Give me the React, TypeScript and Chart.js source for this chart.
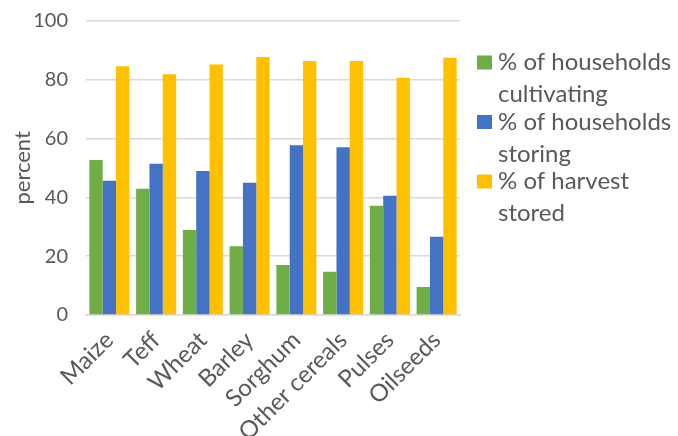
import React, { useEffect, useRef } from "react";
import { Chart, registerables } from "chart.js";

Chart.register(...registerables);

const categories = ["Maize", "Teff", "Wheat", "Barley", "Sorghum", "Other cereals", "Pulses", "Oilseeds"];
const cultivating = [52.7, 42.9, 28.9, 23.4, 17.0, 14.7, 37.1, 9.5];
const storing = [45.6, 51.4, 48.9, 44.9, 57.7, 57.0, 40.5, 26.6];
const harvestStored = [84.5, 81.8, 85.1, 87.7, 86.3, 86.3, 80.6, 87.4];
const legendLines = [
  ["% of households", "cultivating"],
  ["% of households", "storing"],
  ["% of harvest", "stored"],
];
const yTicks = [0, 20, 40, 60, 80, 100];

const FONT = "Lato, 'Open Sans', sans-serif";
const TEXT = "#595959";

const legendPlugin = {
  id: "wrapLegend",
  afterDraw(chart: any) {
    const ctx = chart.ctx;
    const ds = chart.data.datasets;
    ctx.save();
    ctx.font = `24px ${FONT}`;
    ctx.textBaseline = "middle";
    ctx.textAlign = "left";
    const x0 = chart.chartArea.right + 17;
    let y = 62.5;
    ds.forEach((d: any, i: number) => {
      ctx.fillStyle = d.backgroundColor;
      ctx.fillRect(x0, y - 7, 15, 14);
      ctx.fillStyle = TEXT;
      const lines = legendLines[i];
      lines.forEach((ln: string, j: number) => {
        ctx.fillText(ln, x0 + 21, y + j * 32);
      });
      y += 59.5;
    });
    ctx.restore();
  },
};

export default function App() {
  const ref = useRef<HTMLCanvasElement>(null);
  useEffect(() => {
    document.body.style.margin = "0";
    const chart = new Chart(ref.current!, {
      type: "bar",
      data: {
        labels: categories,
        datasets: [
          { label: "% of households cultivating", data: cultivating, backgroundColor: "#70ad47" },
          { label: "% of households storing", data: storing, backgroundColor: "#4472c4" },
          { label: "% of harvest stored", data: harvestStored, backgroundColor: "#ffc000" },
        ],
      },
      options: {
        animation: false,
        responsive: false,
        maintainAspectRatio: false,
        layout: { padding: { top: 20.7, right: 218, left: 6, bottom: 0 } },
        datasets: { bar: { categoryPercentage: 0.856, barPercentage: 1 } },
        plugins: { legend: { display: false }, tooltip: { enabled: false } },
        scales: {
          x: {
            grid: { display: false },
            border: { display: true, color: "#d9d9d9", width: 1.5 },
            ticks: {
              color: TEXT,
              font: { family: FONT, size: 24 },
              minRotation: 45,
              maxRotation: 45,
              autoSkip: false,
            },
            afterFit(axis: any) {
              axis.height = 121;
              axis.paddingTop = 0;
            },
          },
          y: {
            min: 0,
            max: 100,
            afterBuildTicks(axis: any) {
              axis.ticks = yTicks.map((v) => ({ value: v }));
            },
            grid: { color: "#d9d9d9", lineWidth: 1.5, drawTicks: false },
            border: { display: false },
            ticks: { color: TEXT, font: { family: FONT, size: 20 }, padding: 18 },
            title: { display: true, text: "percent", color: TEXT, font: { family: FONT, size: 22 } },
            afterFit(axis: any) {
              axis.width = 80;
              axis.paddingTop = 0;
              axis.paddingBottom = 0;
            },
          },
        },
      },
      plugins: [legendPlugin],
    });
    return () => chart.destroy();
  }, []);
  return <canvas ref={ref} width={678} height={436} style={{ display: "block" }} />;
}
